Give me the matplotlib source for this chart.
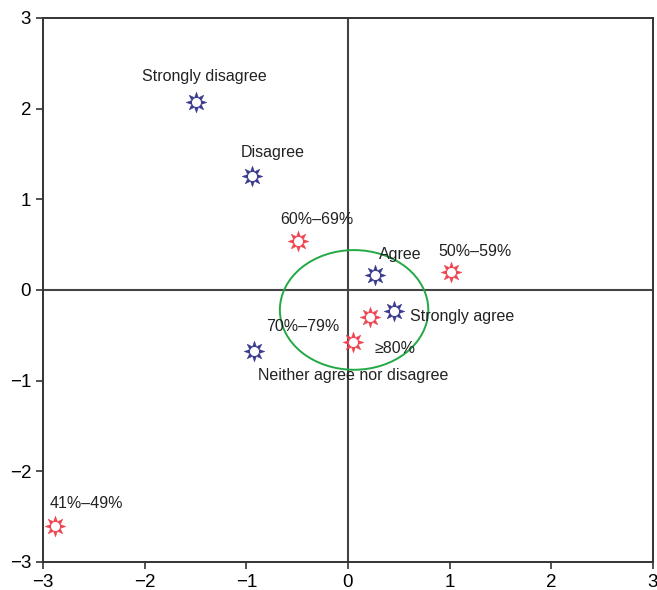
import numpy as np
import matplotlib
matplotlib.use('Agg')
import matplotlib.pyplot as plt
from matplotlib.patches import Ellipse
from matplotlib.path import Path

plt.rcParams['font.family'] = ['Liberation Sans', 'DejaVu Sans']

# answer categories (blue)
resp_labels = ['Strongly disagree', 'Disagree', 'Agree', 'Strongly agree',
               'Neither agree nor disagree']
resp_x = [-1.49, -0.94, 0.27, 0.45, -0.92]
resp_y = [2.07, 1.26, 0.17, -0.23, -0.67]

# percentage groups (red)
pct_labels = ['60%\u201369%', '50%\u201359%', '70%\u201379%', '\u226580%', '41%\u201349%']
pct_x = [-0.49, 1.01, 0.22, 0.05, -2.88]
pct_y = [0.54, 0.20, -0.30, -0.57, -2.60]

# label positions (text centres)
resp_tx = [-1.41, -0.74, 0.51, 1.12, 0.05]
resp_ty = [2.35, 1.52, 0.39, -0.29, -0.94]
pct_tx = [-0.31, 1.25, -0.44, 0.46, -2.57]
pct_ty = [0.78, 0.42, -0.40, -0.64, -2.36]

blue = '#3b3b8e'
red = '#ef4552'

# spiky 8-point star marker
ang = np.arange(16) * np.pi / 8 + np.pi / 2
rad = np.where(np.arange(16) % 2 == 0, 1.0, 0.5)
verts = np.column_stack([rad * np.cos(ang), rad * np.sin(ang)])
verts = np.vstack([verts, verts[:1]])
star = Path(verts, closed=True)

fig = plt.figure(figsize=(6.57, 5.9), dpi=100)
ax = fig.add_axes([0.0654, 0.0475, 0.9285, 0.922])

ax.axhline(0, color='#444444', lw=1.5, zorder=1)
ax.axvline(0, color='#444444', lw=1.5, zorder=1)

ell = Ellipse((0.06, -0.22), 1.46, 1.32, fill=False, edgecolor='#22a845', lw=1.4, zorder=2)
ax.add_patch(ell)

for xs, ys, c in [(resp_x, resp_y, blue), (pct_x, pct_y, red)]:
    ax.plot(xs, ys, linestyle='none', marker=star, markersize=15,
            markerfacecolor=c, markeredgecolor=c, markeredgewidth=0.3, zorder=3)
    ax.plot(xs, ys, linestyle='none', marker='o', markersize=5.5,
            markerfacecolor='white', markeredgecolor='white', zorder=4)

for lab, tx, ty in zip(resp_labels, resp_tx, resp_ty):
    ax.text(tx, ty, lab, ha='center', va='center', fontsize=11.5, color='#222222')
for lab, tx, ty in zip(pct_labels, pct_tx, pct_ty):
    ax.text(tx, ty, lab, ha='center', va='center', fontsize=11.5, color='#222222')

ax.set_xlim(-3, 3)
ax.set_ylim(-3, 3)
ax.set_xticks(range(-3, 4))
ax.set_yticks(range(-3, 4))
ax.set_xticklabels(['\u22123', '\u22122', '\u22121', '0', '1', '2', '3'])
ax.set_yticklabels(['\u22123', '\u22122', '\u22121', '0', '1', '2', '3'])
ax.tick_params(direction='out', length=5, width=1.2, labelsize=13.5, color='#333333')
for s in ax.spines.values():
    s.set_color('#333333')
    s.set_linewidth(1.4)

plt.savefig('out.png', dpi=100)
